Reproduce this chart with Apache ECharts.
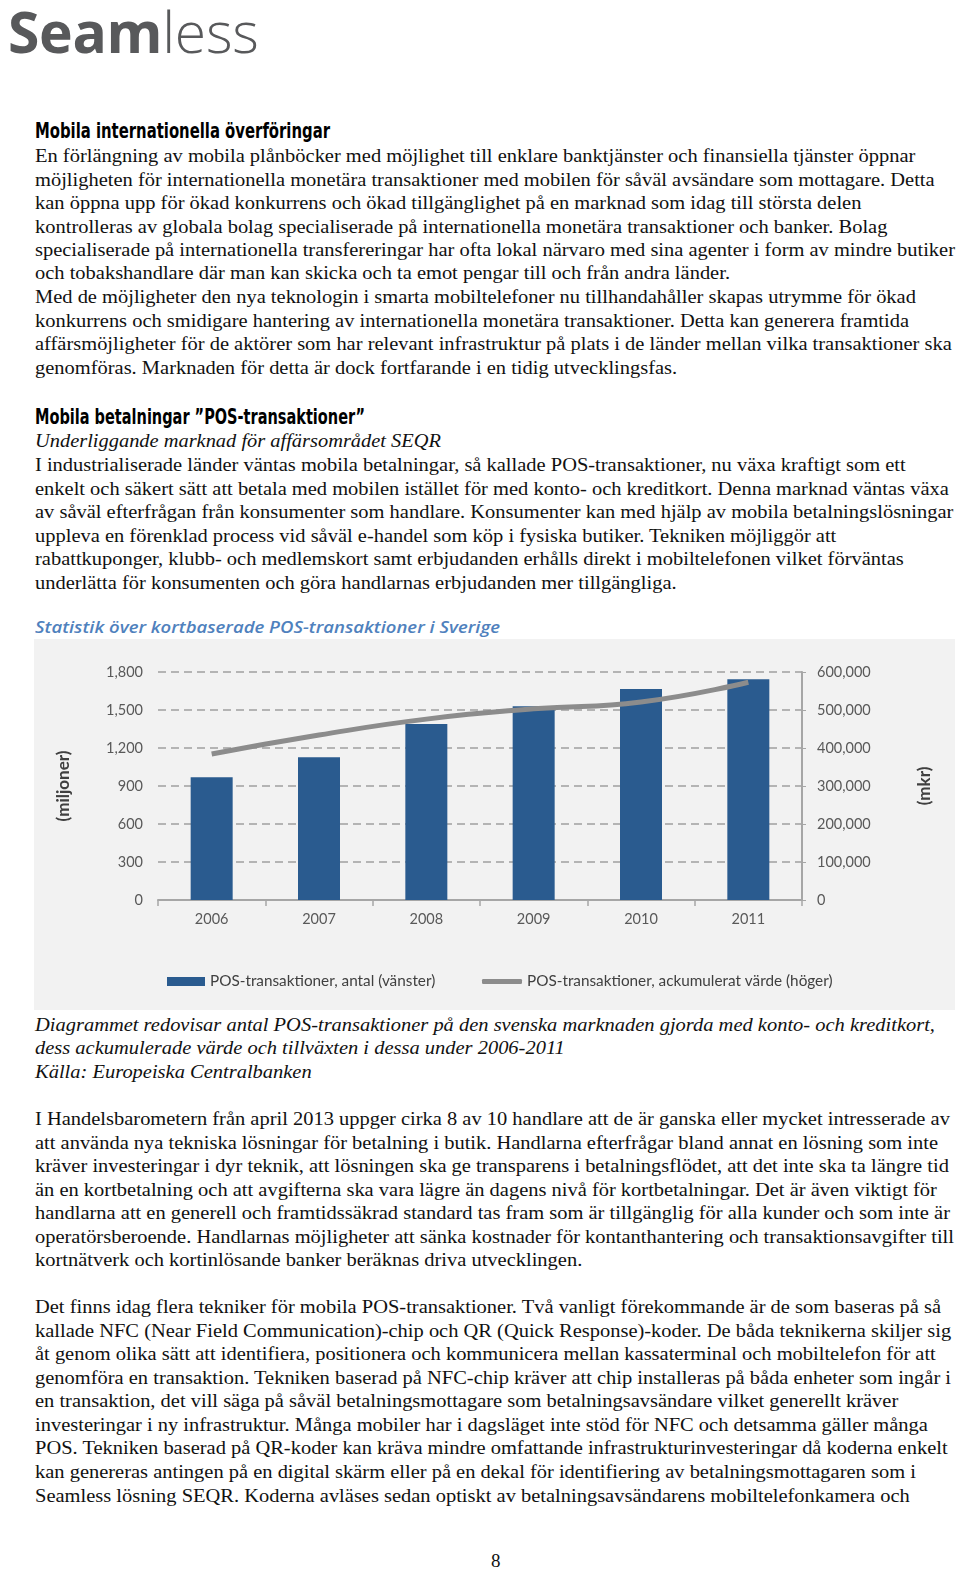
<!DOCTYPE html>
<html>
<head>
<meta charset="utf-8">
<script src="https://cdn.jsdelivr.net/npm/echarts@6/dist/echarts.min.js"></script>
<style>
  html, body { margin:0; padding:0; background:#fff; }
  body { width:960px; height:1570px; position:relative; overflow:hidden; }
  .ln { position:absolute; left:35px; white-space:nowrap; height:24px; line-height:24px;
        font-family:"Liberation Serif","DejaVu Serif",serif; font-size:19px; color:#111;
        transform-origin:0 50%; }
  .it { font-style:italic; }
  .hd { font-family:"DejaVu Sans Condensed","DejaVu Sans",sans-serif; font-weight:bold; font-size:21px; color:#000; }
  .ct { font-family:"Open Sans",sans-serif; font-style:italic; font-weight:600; font-size:17px; color:#4f81bd; }
  #logo { position:absolute; left:8px; top:3px; font-family:"Open Sans",sans-serif; font-size:57px; line-height:57px; color:#58595b; white-space:nowrap; letter-spacing:-0.3px; }
  #logo b { font-weight:700; }
  #logo span { font-weight:300; }
  #chart { position:absolute; left:34px; top:639px; width:921px; height:371px; }
</style>
</head>
<body>
<div id="logo"><b>Seam</b><span>less</span></div>
<div id="chart"></div>
<script>
// ---- chart data ----
const categories = ['2006', '2007', '2008', '2009', '2010', '2011'];
const transactionCount = [970, 1126, 1390, 1530, 1665, 1742];          // miljoner (left axis)
const accumulatedValue = [384000, 434000, 476000, 503000, 521000, 573000]; // mkr (right axis)
const seriesNames = ['POS-transaktioner, antal (vänster)', 'POS-transaktioner, ackumulerat värde (höger)'];
const axisNames = ['(miljoner)', '(mkr)'];

// ---- page text ----
const bodyLines1 = [
 'En förlängning av mobila plånböcker med möjlighet till enklare banktjänster och finansiella tjänster öppnar',
 'möjligheten för internationella monetära transaktioner med mobilen för såväl avsändare som mottagare. Detta',
 'kan öppna upp för ökad konkurrens och ökad tillgänglighet på en marknad som idag till största delen',
 'kontrolleras av globala bolag specialiserade på internationella monetära transaktioner och banker. Bolag',
 'specialiserade på internationella transfereringar har ofta lokal närvaro med sina agenter i form av mindre butiker',
 'och tobakshandlare där man kan skicka och ta emot pengar till och från andra länder.',
 'Med de möjligheter den nya teknologin i smarta mobiltelefoner nu tillhandahåller skapas utrymme för ökad',
 'konkurrens och smidigare hantering av internationella monetära transaktioner. Detta kan generera framtida',
 'affärsmöjligheter för de aktörer som har relevant infrastruktur på plats i de länder mellan vilka transaktioner ska',
 'genomföras. Marknaden för detta är dock fortfarande i en tidig utvecklingsfas.'
];
const bodyY1 = [155,179,202,226,249,272,296,320,343,367];
const bodyLines2 = [
 'I industrialiserade länder väntas mobila betalningar, så kallade POS-transaktioner, nu växa kraftigt som ett',
 'enkelt och säkert sätt att betala med mobilen istället för med konto- och kreditkort. Denna marknad väntas växa',
 'av såväl efterfrågan från konsumenter som handlare. Konsumenter kan med hjälp av mobila betalningslösningar',
 'uppleva en förenklad process vid såväl e-handel som köp i fysiska butiker. Tekniken möjliggör att',
 'rabattkuponger, klubb- och medlemskort samt erbjudanden erhålls direkt i mobiltelefonen vilket förväntas',
 'underlätta för konsumenten och göra handlarnas erbjudanden mer tillgängliga.'
];
const bodyY2 = [464,488,511,535,558,582];
const captionLines = [
 'Diagrammet redovisar antal POS-transaktioner på den svenska marknaden gjorda med konto- och kreditkort,',
 'dess ackumulerade värde och tillväxten i dessa under 2006-2011',
 'Källa: Europeiska Centralbanken'
];
const captionY = [1024,1047,1071];
const bodyLines3 = [
 'I Handelsbarometern från april 2013 uppger cirka 8 av 10 handlare att de är ganska eller mycket intresserade av',
 'att använda nya tekniska lösningar för betalning i butik. Handlarna efterfrågar bland annat en lösning som inte',
 'kräver investeringar i dyr teknik, att lösningen ska ge transparens i betalningsflödet, att det inte ska ta längre tid',
 'än en kortbetalning och att avgifterna ska vara lägre än dagens nivå för kortbetalningar. Det är även viktigt för',
 'handlarna att en generell och framtidssäkrad standard tas fram som är tillgänglig för alla kunder och som inte är',
 'operatörsberoende. Handlarnas möjligheter att sänka kostnader för kontanthantering och transaktionsavgifter till',
 'kortnätverk och kortinlösande banker beräknas driva utvecklingen.'
];
const bodyY3 = [1118,1142,1165,1189,1212,1236,1259];
const bodyLines4 = [
 'Det finns idag flera tekniker för mobila POS-transaktioner. Två vanligt förekommande är de som baseras på så',
 'kallade NFC (Near Field Communication)-chip och QR (Quick Response)-koder. De båda teknikerna skiljer sig',
 'åt genom olika sätt att identifiera, positionera och kommunicera mellan kassaterminal och mobiltelefon för att',
 'genomföra en transaktion. Tekniken baserad på NFC-chip kräver att chip installeras på båda enheter som ingår i',
 'en transaktion, det vill säga på såväl betalningsmottagare som betalningsavsändare vilket generellt kräver',
 'investeringar i ny infrastruktur. Många mobiler har i dagsläget inte stöd för NFC och detsamma gäller många',
 'POS. Tekniken baserad på QR-koder kan kräva mindre omfattande infrastrukturinvesteringar då koderna enkelt',
 'kan genereras antingen på en digital skärm eller på en dekal för identifiering av betalningsmottagaren som i',
 'Seamless lösning SEQR. Koderna avläses sedan optiskt av betalningsavsändarens mobiltelefonkamera och'
];
const bodyY4 = [1306,1330,1353,1377,1400,1424,1447,1471,1495];

function addLine(text, yc, cls) {
  const d = document.createElement('div');
  d.className = 'ln ' + (cls || '');
  d.textContent = text;
  d.style.top = (yc - 11.3) + 'px';
  document.body.appendChild(d);
  return d;
}
function fit(el, w) {
  const nat = el.getBoundingClientRect().width;
  el.style.transform = 'scaleX(' + (w / nat) + ')';
}

const body = [];
bodyLines1.forEach((t, i) => body.push(addLine(t, bodyY1[i])));
bodyLines2.forEach((t, i) => body.push(addLine(t, bodyY2[i])));
bodyLines3.forEach((t, i) => body.push(addLine(t, bodyY3[i])));
bodyLines4.forEach((t, i) => body.push(addLine(t, bodyY4[i])));
const refW = body[4].getBoundingClientRect().width;
const s = 920 / refW;
body.forEach(el => el.style.transform = 'scaleX(' + s + ')');

const caps = captionLines.map((t, i) => addLine(t, captionY[i], 'it'));
const cs = 900 / caps[0].getBoundingClientRect().width;
caps.forEach(el => el.style.transform = 'scaleX(' + cs + ')');

const sub = addLine('Underliggande marknad för affärsområdet SEQR', 440, 'it');
fit(sub, 406);

const h1 = addLine('Mobila internationella överföringar', 130, 'hd');
fit(h1, 295);
const h2 = addLine('Mobila betalningar ”POS-transaktioner”', 416, 'hd');
fit(h2, 330);
const ct = addLine('Statistik över kortbaserade POS-transaktioner i Sverige', 626.5, 'ct');
fit(ct, 465);

const pn = addLine('8', 1560);
pn.style.left = '491px';

// ---- chart ----
const chart = echarts.init(document.getElementById('chart'), null, { renderer: 'canvas' });
const fmt = v => v.toLocaleString('en-US');
const labelStyle = { color: '#595959', fontFamily: 'Lato', fontSize: 14.5 };
const legendText = { color: '#404040', fontFamily: 'Lato', fontSize: 15.3 };
const nameStyle = { color: '#404040', fontFamily: 'Lato', fontWeight: 'bold', fontSize: 17 };
chart.setOption({
  backgroundColor: '#f2f2f2',
  animation: false,
  grid: { left: 124, right: 153, top: 33, bottom: 110 },
  legend: [
    { data: [seriesNames[0]], left: 128, top: 330, icon: 'rect', itemWidth: 38, itemHeight: 9, textStyle: legendText },
    { data: [seriesNames[1]], left: 443, top: 330, icon: 'roundRect', itemWidth: 40, itemHeight: 5, textStyle: legendText }
  ],
  xAxis: {
    type: 'category', data: categories,
    axisLine: { lineStyle: { color: '#a6a6a6', width: 2 } },
    axisTick: { show: true, length: 6, lineStyle: { color: '#a6a6a6', width: 1.5 } },
    axisLabel: Object.assign({ margin: 12 }, labelStyle)
  },
  yAxis: [
    { type: 'value', min: 0, max: 1800, interval: 300, position: 'left',
      axisLine: { show: false }, axisTick: { show: false },
      splitLine: { lineStyle: { color: '#a0a0a0', type: [8, 5], width: 1.6 } },
      axisLabel: Object.assign({ margin: 15, formatter: fmt }, labelStyle),
      name: axisNames[0], nameLocation: 'middle', nameRotate: 90, nameGap: 86, nameTextStyle: nameStyle },
    { type: 'value', min: 0, max: 600000, interval: 100000, position: 'right',
      axisLine: { show: true, lineStyle: { color: '#a6a6a6', width: 2 } },
      axisTick: { show: true, length: 4, lineStyle: { color: '#a6a6a6' } },
      splitLine: { show: false },
      axisLabel: Object.assign({ margin: 15, formatter: fmt }, labelStyle),
      name: axisNames[1], nameLocation: 'middle', nameRotate: 90, nameGap: 114, nameTextStyle: nameStyle }
  ],
  series: [
    { name: seriesNames[0], type: 'bar', data: transactionCount, yAxisIndex: 0,
      barWidth: 42, itemStyle: { color: '#2a5b8f' } },
    { name: seriesNames[1], type: 'line', data: accumulatedValue, yAxisIndex: 1,
      smooth: true, symbol: 'none', lineStyle: { color: '#8c8c8c', width: 5 },
      itemStyle: { color: '#8c8c8c' } }
  ]
});
</script>
</body>
</html>
